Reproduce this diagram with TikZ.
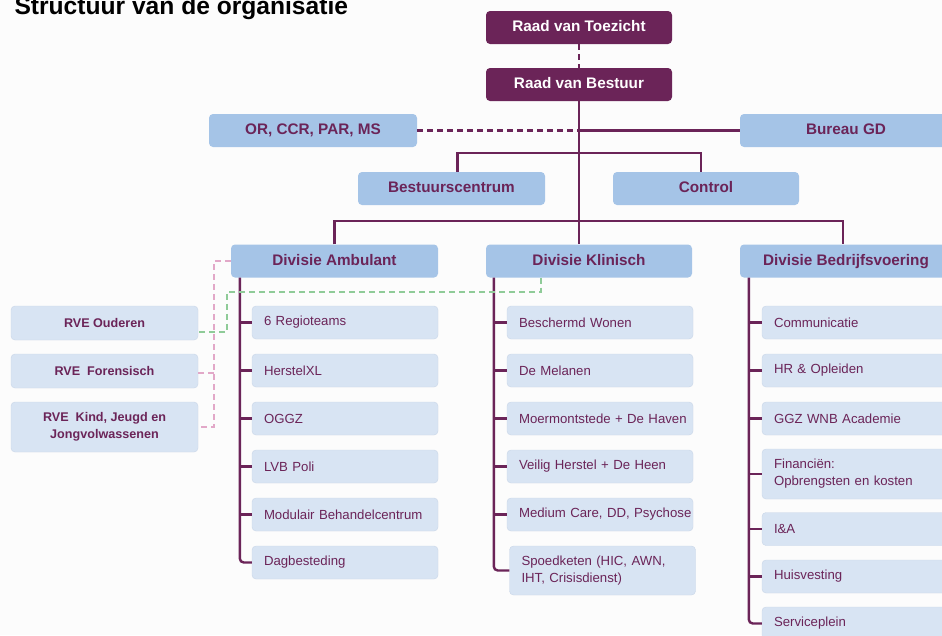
\documentclass[tikz,border=0pt]{standalone}
\usepackage{fontspec}
\setmainfont{Liberation Sans}
\usetikzlibrary{positioning}

\definecolor{paars}{HTML}{6B2458}
\definecolor{divblauw}{HTML}{A5C4E7}
\definecolor{itemblauw}{HTML}{D8E4F3}
\definecolor{itemrand}{HTML}{C9D6E8}
\definecolor{roze}{HTML}{E2A8C8}
\definecolor{groen}{HTML}{8FCB98}
\definecolor{achtergrond}{HTML}{FCFCFC}

\newcommand{\titelfont}{\fontsize{24.6pt}{28pt}\selectfont\bfseries}
\newcommand{\kopfont}{\fontsize{15.3pt}{18pt}\selectfont\bfseries}
\newcommand{\rvefont}{\fontsize{12.6pt}{17pt}\selectfont\bfseries}
\newcommand{\itemfont}{\fontsize{13.2pt}{17pt}\selectfont}

\begin{document}
\begin{tikzpicture}[x=1pt,y=-1pt]
    \tikzstyle{raad}=[rectangle, rounded corners=4pt, fill=paars, text=white,
    font=\kopfont, minimum width=186pt, minimum height=33pt,
    text height=11pt, text depth=3pt]
    \tikzstyle{kop}=[rectangle, rounded corners=4pt, fill=divblauw, text=paars,
    font=\kopfont, minimum height=33pt, text height=11pt, text depth=3pt]
    \tikzstyle{rve}=[rectangle, rounded corners=4pt, fill=itemblauw, draw=itemrand,
    line width=0.4pt, text=paars, font=\rvefont, align=center, minimum width=187pt,
    minimum height=34pt]
    \tikzstyle{item}=[rectangle, rounded corners=4pt, fill=itemblauw, draw=itemrand,
    line width=0.4pt, text=paars, font=\itemfont, align=left, inner xsep=12pt,
    text width=162pt, minimum height=33pt,
    execute at begin node={\rightskip=0pt plus 1fil minus 300pt}]
    \tikzstyle{lijn}=[draw=paars, line width=2.4pt]
    \tikzstyle{stippel}=[draw=paars, line width=2.4pt, dash pattern=on 6pt off 4pt]

\fill[achtergrond] (0,0) rectangle (942,635);
\useasboundingbox (0,0) rectangle (942,635);

\node[anchor=base west, font=\titelfont] (titel) at (11,14) {Structuur van de organisatie};

% bestuur
\node[raad] (rt) at (579,27.5) {Raad van Toezicht};
\node[raad] (rb) at (579,84.5) {Raad van Bestuur};
\node[kop, minimum width=208pt] (ov) at (313,130.5) {OR, CCR, PAR, MS};
\node[kop, minimum width=212pt] (gd) at (846,130.5) {Bureau GD};
\node[kop, minimum width=187pt] (bc) at (451.5,188.5) {Bestuurscentrum};
\node[kop, minimum width=186pt] (ct) at (706,188.5) {Control};

% divisies
\node[kop, minimum width=207pt] (da) at (334.5,261) {Divisie Ambulant};
\node[kop, minimum width=206pt] (dk) at (589,261) {Divisie Klinisch};
\node[kop, minimum width=212pt] (db) at (846,261) {Divisie Bedrijfsvoering};

% rve's
\node[rve] (o1) at (104.5,323) {RVE Ouderen};
\node[rve] (o2) at (104.5,371) {RVE~ Forensisch};
\node[rve, minimum height=50pt] (o3) at (104.5,427) {RVE~ Kind, Jeugd en\\Jongvolwassenen};

% ambulant
\node[item] (a1) at (345,322.5) {6 Regioteams};
\node[item] (a2) at (345,370.5) {HerstelXL};
\node[item] (a3) at (345,418.5) {OGGZ};
\node[item] (a4) at (345,466.5) {LVB Poli};
\node[item] (a5) at (345,514.5) {Modulair Behandelcentrum};
\node[item] (a6) at (345,562.5) {Dagbesteding};

% klinisch
\node[item] (k1) at (600,322.5) {Beschermd Wonen};
\node[item] (k2) at (600,370.5) {De Melanen};
\node[item] (k3) at (600,418.5) {Moermontstede + De Haven};
\node[item] (k4) at (600,466.5) {Veilig Herstel + De Heen};
\node[item] (k5) at (600,514.5) {Medium Care, DD, Psychose};
\node[item, minimum height=49pt] (k6) at (602.5,570.5) {Spoedketen (HIC, AWN,\\IHT, Crisisdienst)};

% bedrijfsvoering
\node[item, text width=166pt] (b1) at (857,322.5) {Communicatie};
\node[item, text width=166pt] (b2) at (857,370.5) {HR \& Opleiden};
\node[item, text width=166pt] (b3) at (857,418.5) {GGZ WNB Academie};
\node[item, text width=166pt, minimum height=50pt] (b4) at (857,474) {Financiën:\\Opbrengsten en kosten};
\node[item, text width=166pt] (b5) at (857,529) {I\&A};
\node[item, text width=166pt] (b6) at (857,576.5) {Huisvesting};
\node[item, text width=166pt] (b7) at (857,623.5) {Serviceplein};

% lijnen bestuur
\coordinate (staf) at (579,153);
\coordinate (bar) at (579,221);
\draw[stippel] (rt.south) -- (rb.north);
\draw[lijn] (rb.south) -- (rb.south |- dk.north);
\draw[stippel] (ov.east) -- (ov.east -| rb.south);
\draw[lijn] (ov.east -| rb.south) -- (gd.west);
\draw[lijn] ([xshift=6pt]bc.north) |- (staf) -| ([xshift=-5pt]ct.north);
\draw[lijn] (da.north) |- (bar) -| ([xshift=-3pt]db.north);

% lijnen ambulant
\coordinate (spA) at ([xshift=9pt]da.south west);
\draw[lijn, rounded corners=4pt] (spA) |- (a6.west);
\draw[lijn] (spA |- a1.west) -- (a1.west);
\draw[lijn] (spA |- a2.west) -- (a2.west);
\draw[lijn] (spA |- a3.west) -- (a3.west);
\draw[lijn] (spA |- a4.west) -- (a4.west);
\draw[lijn] (spA |- a5.west) -- (a5.west);

% lijnen klinisch
\coordinate (spK) at ([xshift=8pt]dk.south west);
\draw[lijn, rounded corners=4pt] (spK) |- (k6.west);
\draw[lijn] (spK |- k1.west) -- (k1.west);
\draw[lijn] (spK |- k2.west) -- (k2.west);
\draw[lijn] (spK |- k3.west) -- (k3.west);
\draw[lijn] (spK |- k4.west) -- (k4.west);
\draw[lijn] (spK |- k5.west) -- (k5.west);

% lijnen bedrijfsvoering
\coordinate (spB) at ([xshift=9pt]db.south west);
\draw[lijn, rounded corners=4pt] (spB) |- (b7.west);
\draw[lijn] (spB |- b1.west) -- (b1.west);
\draw[lijn] (spB |- b2.west) -- (b2.west);
\draw[lijn] (spB |- b3.west) -- (b3.west);
\draw[lijn] (spB |- b4.west) -- (b4.west);
\draw[lijn] (spB |- b5.west) -- (b5.west);
\draw[lijn] (spB |- b6.west) -- (b6.west);

% rve verbindingen
\draw[draw=roze, line width=2.4pt, dash pattern=on 6pt off 4pt]
    (da.west) -- ++(-17,0) coordinate (pk) |- (o3.east);
\draw[draw=roze, line width=2.4pt, dash pattern=on 6pt off 4pt]
    ([yshift=-2pt]o2.east) -- ([yshift=-2pt]o2.east -| pk);
\coordinate (g1) at (227,292);
\draw[draw=groen, line width=2.4pt, dash pattern=on 6pt off 4pt]
    ([xshift=55pt]dk.south west) |- (g1) |- ([yshift=-9pt]o1.east);

\end{tikzpicture}
\end{document}
